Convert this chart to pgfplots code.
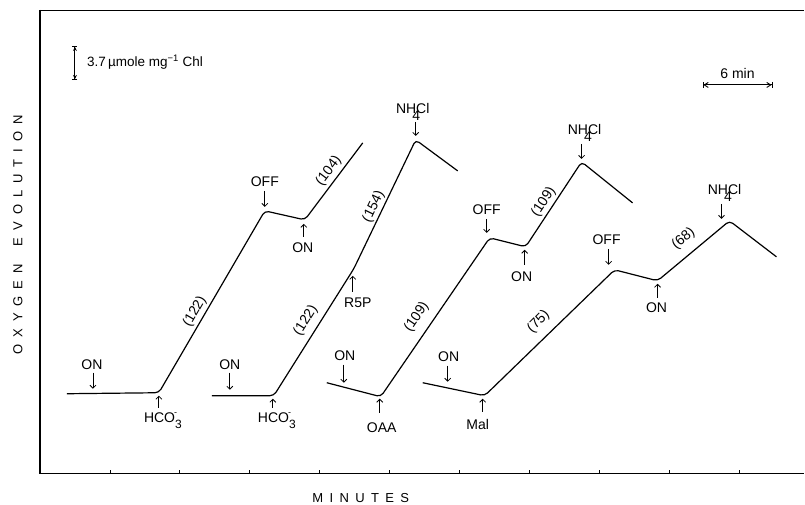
\documentclass[border=0pt]{standalone}
\usepackage{fontspec}
\setmainfont{Liberation Sans}
\usepackage{pgfplots}
\pgfplotsset{compat=1.18}
\usetikzlibrary{arrows.meta}
\newcommand\lbl{\fontsize{14}{16}\selectfont}
\newcommand\sk{\kern7pt}
\newcommand\sm{\kern6.4pt}
\newcommand\nhcl{NH\makebox[0pt]{\raisebox{-0.5em}{4}}Cl}
\newcommand\hco{HCO\rlap{\raisebox{0.5em}{\kern-1pt\small -}}\raisebox{-0.4em}{\fontsize{12}{14}\selectfont 3}}
\begin{document}
\begin{tikzpicture}[
  arr/.style={-{Straight Barb[length=3pt,width=6pt]}, line width=0.8pt},
  lab/.style={font=\lbl, inner sep=0pt},
  trace/.style={black, line width=1.2pt, rounded corners=4pt, no markers}]
\begin{axis}[
  scale only axis, width=765pt, height=464pt,
  xmin=40, xmax=805, ymin=31, ymax=495,
  axis line style={draw=none},
  xtick={110,180,...,740}, xticklabels={}, xtick pos=bottom,
  tick align=inside, major tick length=4pt,
  tick style={black, line width=0.8pt},
  ytick=\empty,
  clip=false]
% bounding box
\path (axis cs:0,0) rectangle (axis cs:805,505);
% frame
\draw[line width=1.1pt] (axis cs:40,495) -- (axis cs:40,31) -- (axis cs:805,31);
\draw[line width=0.8pt] (axis cs:40,495) -- (axis cs:805,495);
% traces
\addplot[trace] coordinates {(67,111) (159,112) (265,294) (305,285) (363,362)};
\addplot[trace] coordinates {(212,109) (274,109) (354,236) (416,365) (458,334)};
\addplot[trace] coordinates {(327,122) (381,108) (490,267) (526,258) (582,343) (633,302)};
\addplot[trace] coordinates {(423,122) (485,109) (615,235) (658,224) (730,284) (777,248)};
% trace 1 labels
\node[lab] at (axis cs:92,140) {ON};
\draw[arr] (axis cs:93,132) -- (axis cs:93,116);
\node[lab] at (axis cs:163,84) {\hco};
\draw[arr] (axis cs:159,97) -- (axis cs:159,109);
\node[lab, rotate=60] at (axis cs:195,193) {(122)};
\node[lab] at (axis cs:265,323) {OFF};
\draw[arr] (axis cs:265,314) -- (axis cs:265,298);
\node[lab] at (axis cs:303,257) {ON};
\draw[arr] (axis cs:304,268) -- (axis cs:304,281);
\node[lab, rotate=53] at (axis cs:329,334) {(104)};
% trace 2 labels
\node[lab] at (axis cs:230,140) {ON};
\draw[arr] (axis cs:230,132) -- (axis cs:230,115);
\node[lab] at (axis cs:277,84) {\hco};
\draw[arr] (axis cs:273,97) -- (axis cs:273,106);
\node[lab, rotate=58] at (axis cs:306,184) {(122)};
\node[lab] at (axis cs:358,202) {R5P};
\draw[arr] (axis cs:353,213) -- (axis cs:353,229);
\node[lab, rotate=64] at (axis cs:374,298) {(154)};
\node[lab] at (axis cs:413,393) {\nhcl};
\draw[arr] (axis cs:416,383) -- (axis cs:416,369);
% trace 3 labels
\node[lab] at (axis cs:345,149) {ON};
\draw[arr] (axis cs:344,140) -- (axis cs:344,122);
\node[lab] at (axis cs:382,77) {OAA};
\draw[arr] (axis cs:380,92) -- (axis cs:380,106);
\node[lab, rotate=56] at (axis cs:417,188) {(109)};
\node[lab] at (axis cs:487,295) {OFF};
\draw[arr] (axis cs:487,286) -- (axis cs:487,272);
\node[lab] at (axis cs:522,228) {ON};
\draw[arr] (axis cs:525,240) -- (axis cs:525,255);
\node[lab, rotate=57] at (axis cs:544,303) {(109)};
\node[lab] at (axis cs:585,372) {\nhcl};
\draw[arr] (axis cs:582,361) -- (axis cs:582,346);
% trace 4 labels
\node[lab] at (axis cs:449,148) {ON};
\draw[arr] (axis cs:448,139) -- (axis cs:448,123);
\node[lab] at (axis cs:478,80) {Mal};
\draw[arr] (axis cs:483,93) -- (axis cs:483,106);
\node[lab, rotate=45] at (axis cs:539,183) {(75)};
\node[lab] at (axis cs:607,265) {OFF};
\draw[arr] (axis cs:609,256) -- (axis cs:609,240);
\node[lab, rotate=39] at (axis cs:684,266) {(68)};
\node[lab] at (axis cs:657,197) {ON};
\draw[arr] (axis cs:658,207) -- (axis cs:658,221);
\node[lab] at (axis cs:725,312) {\nhcl};
\draw[arr] (axis cs:722,301) -- (axis cs:722,286);
% scale bars
\draw[{Bar[width=5pt]Stealth[length=4pt,width=4pt]}-{Stealth[length=4pt,width=4pt]Bar[width=5pt]}, line width=1pt] (axis cs:75,459) -- (axis cs:75,425);
\node[anchor=west, inner sep=0pt, font=\fontsize{13.5}{15}\selectfont] at (axis cs:87,443) {3.7\,µmole mg\textsuperscript{−1} Chl};
\draw[{Bar[width=6pt]Straight Barb[length=4pt,width=5pt]}-{Straight Barb[length=4pt,width=5pt]Bar[width=6pt]}, line width=0.9pt] (axis cs:703,420) -- (axis cs:773,420);
\node[lab] at (axis cs:738,431) {6 min};
% axis labels
\node[rotate=90, inner sep=0pt, font=\fontsize{13}{15}\selectfont] at (axis cs:18,270) {O\sk X\sk Y\sk G\sk E\sk N\hspace{18pt}E\sk V\sk O\sk L\sk U\sk T\sk I\sk O\sk N};
\node[inner sep=0pt, font=\fontsize{13}{15}\selectfont] at (axis cs:361,7) {M\sm I\sm N\sm U\sm T\sm E\sm S};
\end{axis}
\end{tikzpicture}
\end{document}
